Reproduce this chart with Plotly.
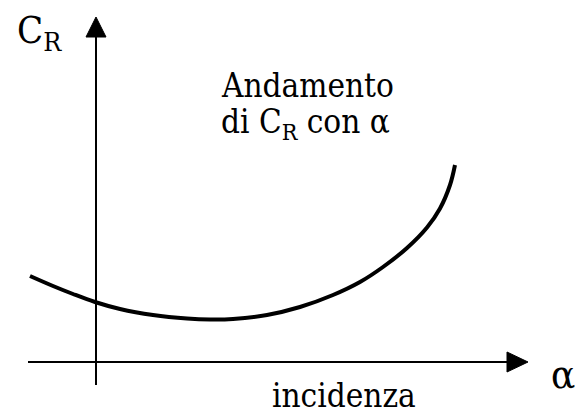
import plotly.graph_objects as go

# Drag coefficient C_R against angle of incidence alpha (qualitative sketch units,
# origin where the two axes cross)
alpha = [-66, -43, -23, -1, 24, 57, 91, 114, 137, 171, 204, 237, 264, 287, 311, 331, 344, 354, 359]
c_r = [86, 76, 68, 60, 53, 47, 43.5, 42.5, 43, 47, 55, 67, 80, 95, 114, 134.5, 153.5, 177, 197]

FONT = "DejaVu Serif Condensed, DejaVu Serif"

# axis extents (sketch units)
X_MIN, X_END, X_TIP = -68, 411, 432
Y_MIN, Y_END, Y_TIP = -23, 325, 345
HEAD = 10

fig = go.Figure()
fig.add_trace(go.Scatter(
    x=alpha, y=c_r, mode="lines",
    line=dict(color="black", width=4, shape="spline", smoothing=1.0),
    hoverinfo="skip", showlegend=False,
))

shapes = [
    dict(type="line", x0=X_MIN, y0=0, x1=X_END, y1=0, line=dict(color="black", width=2)),
    dict(type="line", x0=0, y0=Y_MIN, x1=0, y1=Y_END, line=dict(color="black", width=2)),
    dict(type="path",
         path=f"M {X_END},{-HEAD} L {X_TIP},0 L {X_END},{HEAD} Z",
         fillcolor="black", line=dict(color="black", width=1)),
    dict(type="path",
         path=f"M {-HEAD},{Y_END} L 0,{Y_TIP} L {HEAD},{Y_END} Z",
         fillcolor="black", line=dict(color="black", width=1)),
]

def label(text, x, y, size):
    return dict(text=text, x=x, y=y, xref="x", yref="y", showarrow=False,
                xanchor="center", yanchor="middle",
                font=dict(size=size, color="black", family=FONT))

annotations = [
    label("C<sub>R</sub>", -57, 330, 38),
    label("Andamento", 211, 277, 33),
    label("di C<sub>R</sub> con α", 209, 239, 33),
    label("α", 467, -12, 40),
    label("incidenza", 248, -33, 33),
]

fig.update_layout(
    width=587, height=414,
    margin=dict(l=0, r=0, t=0, b=0),
    font=dict(family=FONT, color="black"),
    paper_bgcolor="white", plot_bgcolor="white",
    xaxis=dict(range=[-96, 491], visible=False, fixedrange=True),
    yaxis=dict(range=[-52, 362], visible=False, fixedrange=True),
    shapes=shapes,
    annotations=annotations,
    showlegend=False,
)

fig.write_html("out.html")
